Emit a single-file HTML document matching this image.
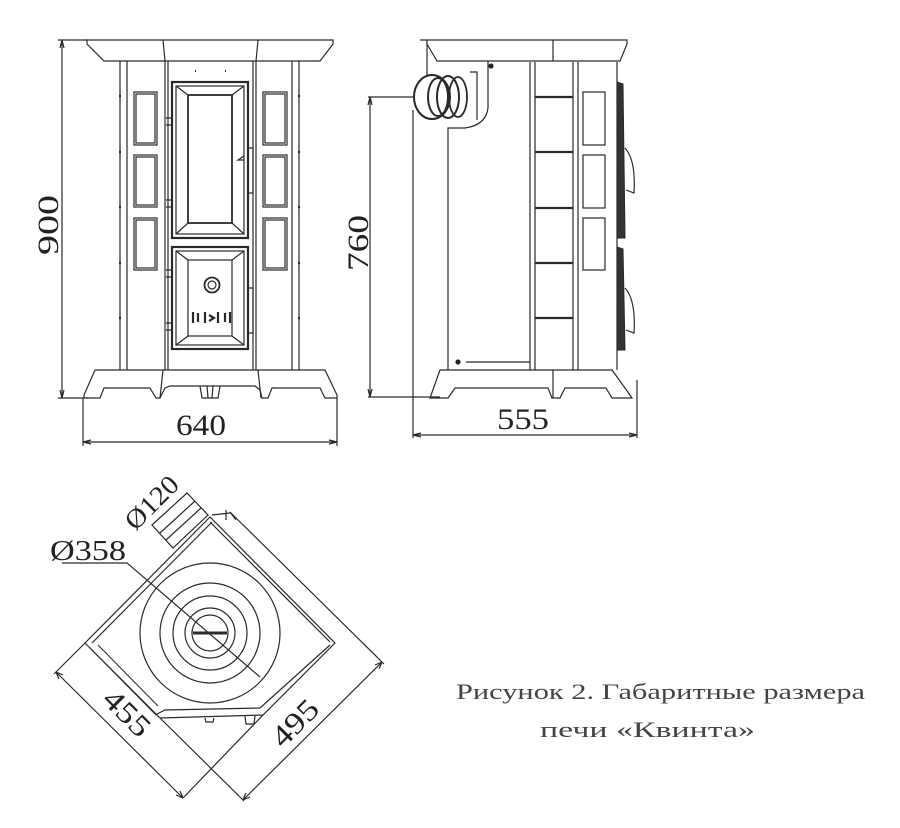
<!DOCTYPE html>
<html><head><meta charset="utf-8"><style>
html,body{margin:0;padding:0;background:#fff;}
svg{display:block;}
text{font-family:"Liberation Serif",serif;fill:#222;}
</style></head><body>
<svg width="900" height="828" viewBox="0 0 900 828" xmlns="http://www.w3.org/2000/svg">
<g fill="none" stroke="#2a2a2a" stroke-width="1.2">
<line x1="58" y1="40" x2="88" y2="40"/>
<line x1="58" y1="398" x2="88" y2="398"/>
<line x1="62" y1="40" x2="62" y2="398"/>
<path d="M60,48 L62,40 L64,48 M60,390 L62,398 L64,390"/>
<path d="M87,40 L333,40 L333,44 L320,61 L104,61 L87,44 Z"/>
<path d="M163,40 L165,61 M258,40 L256,61"/>
<path d="M120,61 L120,370 M127,61 L127,370 M292,61 L292,370 M299,61 L299,370"/>
<path d="M165,61 L165,370 M256,61 L256,370 M168,61 L168,370 M253,61 L253,370"/>
<g stroke-width="2.2">
<path d="M119,96 L121,96 M119,152 L121,152 M119,207 L121,207 M119,263 L121,263 M119,318 L121,318"/>
<path d="M298,96 L300,96 M298,152 L300,152 M298,207 L300,207 M298,263 L300,263 M298,318 L300,318"/>
</g>
<rect x="134" y="92" width="23" height="53"/><rect x="136" y="94" width="19" height="49"/>
<rect x="134" y="155" width="23" height="52"/><rect x="136" y="157" width="19" height="48"/>
<rect x="134" y="218" width="23" height="52"/><rect x="136" y="220" width="19" height="48"/>
<rect x="263" y="92" width="24" height="53"/><rect x="265" y="94" width="20" height="49"/>
<rect x="263" y="155" width="24" height="52"/><rect x="265" y="157" width="20" height="48"/>
<rect x="263" y="218" width="24" height="52"/><rect x="265" y="220" width="20" height="48"/>
<rect x="172" y="82" width="76" height="156" stroke-width="2.2"/>
<rect x="176" y="86" width="68" height="148"/>
<rect x="188" y="95" width="44" height="128" stroke-width="1.8"/>
<path d="M176,86 L188,95 M244,86 L232,95 M176,234 L188,223 M244,234 L232,223"/>
<path d="M166,118 L172,118 L172,125 L166,125 M166,200 L172,200 L172,207 L166,207"/>
<path d="M248,148 L253,148 L253,193 L248,193 M244,160 L238,160 L244,156"/>
<rect x="172" y="247" width="76" height="102" stroke-width="2.2"/>
<rect x="176" y="251" width="68" height="94"/>
<rect x="188" y="260" width="44" height="76"/>
<path d="M176,251 L188,260 M244,251 L232,260 M176,345 L188,336 M244,345 L232,336"/>
<circle cx="212" cy="285" r="7.5" stroke-width="1.8"/><circle cx="212" cy="285" r="4"/>
<g stroke-width="2.2"><path d="M193,312 L193,323 M230,312 L230,323 M205,312 L205,323 M218,312 L218,323 M198,313 L198,322 M225,313 L225,322"/><path d="M209,315 L214,318 L209,321"/></g>
<path d="M166,270 L172,270 L172,277 L166,277 M166,323 L172,323 L172,330 L166,330"/>
<path d="M248,288 L253,288 L253,333 L248,333"/>
<path d="M195,71 L196,71 M225,71 L226,71" stroke-width="2"/>
<path d="M95,370 L325,370 L337,395 L337,398 M95,370 L84,395 L84,398"/>
<path d="M84,398 L100,398 L104,388 L150,388 L156,398 L160,398 L165,388 L170,386 L255,386 L260,390 L262,398 L268,398 L272,388 L320,388 L325,398 L337,398"/>
<path d="M200,386 L202,398 L218,398 L220,386 M207,386 L208,398 M213,386 L212,398"/>
<path d="M163,370 L160,398 M258,370 L261,398"/>
<path d="M83,398 L83,446 M337,398 L337,446 M83,442 L337,442 M91,440 L83,442 L91,444 M329,440 L337,442 L329,444"/>

<path d="M420,40 L627,40 L627,44 L620,61 L437,61 L427,44 L427,40"/>
<path d="M553,40 L553,61"/>
<path d="M427,44 L427,77"/>
<path d="M488,61 L488,108 Q486,125 465,128 L448,128 L448,370"/>
<path d="M470,72 L477,72 L477,120"/>
<ellipse cx="432" cy="97" rx="18" ry="22" stroke-width="2"/>
<ellipse cx="438" cy="97" rx="10" ry="19" stroke-width="2"/>
<ellipse cx="448" cy="97" rx="11" ry="21" stroke-width="2"/>
<ellipse cx="458" cy="97" rx="9" ry="20" stroke-width="1.8"/>
<path d="M530,62 L530,370 M535,62 L535,370 M573,62 L573,370 M578,62 L578,370 M617,62 L617,370"/>
<g stroke-width="2.2"><path d="M535,97 L573,97 M535,152 L573,152 M535,208 L573,208 M535,263 L573,263 M535,318 L573,318"/></g>
<path d="M466,362 L530,362"/>
<circle cx="491" cy="66" r="2" fill="#222"/><circle cx="458" cy="362" r="2" fill="#222"/>
<rect x="583" y="92" width="22" height="53"/><rect x="583" y="155" width="22" height="53"/><rect x="583" y="218" width="22" height="52"/>
<path d="M617,82 L623,84 L625,238 L617,238 Z M617,247 L623,249 L625,350 L617,350 Z" fill="#333" stroke-width="1"/>
<path d="M625,148 Q636,160 634,193 L626,190 M625,288 Q636,300 634,333 L626,330"/>
<path d="M440,370 L612,370 L630,395 L632,398 L612,398 L606,388 L565,388 L560,398 L552,398 L548,388 L455,388 L448,398 L430,398 L440,370"/>
<path d="M553,370 L553,398"/>
<path d="M368,97 L415,97 M368,397 L440,397 M370,97 L370,397 M368,105 L370,97 L372,105 M368,389 L370,397 L372,389"/>
<path d="M413,110 L413,438 M637,380 L637,438 M413,435 L637,435 M421,433 L413,435 L421,437 M629,433 L637,435 L629,437"/>

<path d="M210,517 L85,643 L160,718 L263,715 L335,643 Z"/>
<path d="M212,522 L92,643 M210,522 L330,642"/>
<path d="M90,648 L155,714 M98,645 L158,706" stroke-width="1"/>
<path d="M155,715 L165,710 L260,708 L330,645"/>
<circle cx="210" cy="633" r="70"/>
<circle cx="210" cy="633" r="50"/>
<circle cx="210" cy="633" r="37"/>
<circle cx="210" cy="633" r="25"/>
<circle cx="210" cy="633" r="18"/>
<path d="M193,633 L227,633" stroke-width="3"/>
<path d="M205,718 L206,722 L213,722 L214,718 M245,716 L246,724 L254,724 L255,716"/>
<path d="M152,525 L187,493 L208,515 L173,548 Z M160,533 L195,501 M166,540 L201,508"/>
<path d="M212,515 L230,513 M226,510 L226,520 M230,512 L236,520"/>
<path d="M62,563 L127,563 L260,677"/>
<path d="M85,643 L54,674 M263,715 L183,798"/>
<path d="M56,672 L183,798 M56,672 L63,675 M56,672 L59,679 M183,798 L176,795 M183,798 L180,791"/>
<path d="M230,512 L384,664 M160,718 L244,801 M382,662 L243,800"/>
<path d="M382,662 L375,665 M382,662 L379,669 M243,800 L250,797 M243,800 L246,793"/>
</g>
<text x="0" y="0" font-size="30" transform="translate(58,225) rotate(-90)" text-anchor="middle" textLength="60" lengthAdjust="spacingAndGlyphs">900</text>
<text x="176" y="435" font-size="30" textLength="50" lengthAdjust="spacingAndGlyphs">640</text>
<text x="0" y="0" font-size="30" transform="translate(368,243) rotate(-90)" text-anchor="middle" textLength="56" lengthAdjust="spacingAndGlyphs">760</text>
<text x="497" y="429" font-size="30" textLength="52" lengthAdjust="spacingAndGlyphs">555</text>
<text x="50" y="560" font-size="28" textLength="76" lengthAdjust="spacingAndGlyphs">Ø358</text>
<text x="0" y="0" font-size="27" transform="translate(158,509) rotate(-45)" text-anchor="middle" textLength="64" lengthAdjust="spacingAndGlyphs">Ø120</text>
<text x="0" y="0" font-size="30" transform="translate(120,720) rotate(45)" text-anchor="middle" textLength="54" lengthAdjust="spacingAndGlyphs">455</text>
<text x="0" y="0" font-size="30" transform="translate(302,730) rotate(-45)" text-anchor="middle" textLength="54" lengthAdjust="spacingAndGlyphs">495</text>
<text x="456" y="699" font-size="22" textLength="409" lengthAdjust="spacingAndGlyphs" style="fill:#444">Рисунок 2. Габаритные размера</text>
<text x="540" y="737" font-size="22" textLength="215" lengthAdjust="spacingAndGlyphs" style="fill:#444">печи «Квинта»</text>
</svg>
</body></html>
